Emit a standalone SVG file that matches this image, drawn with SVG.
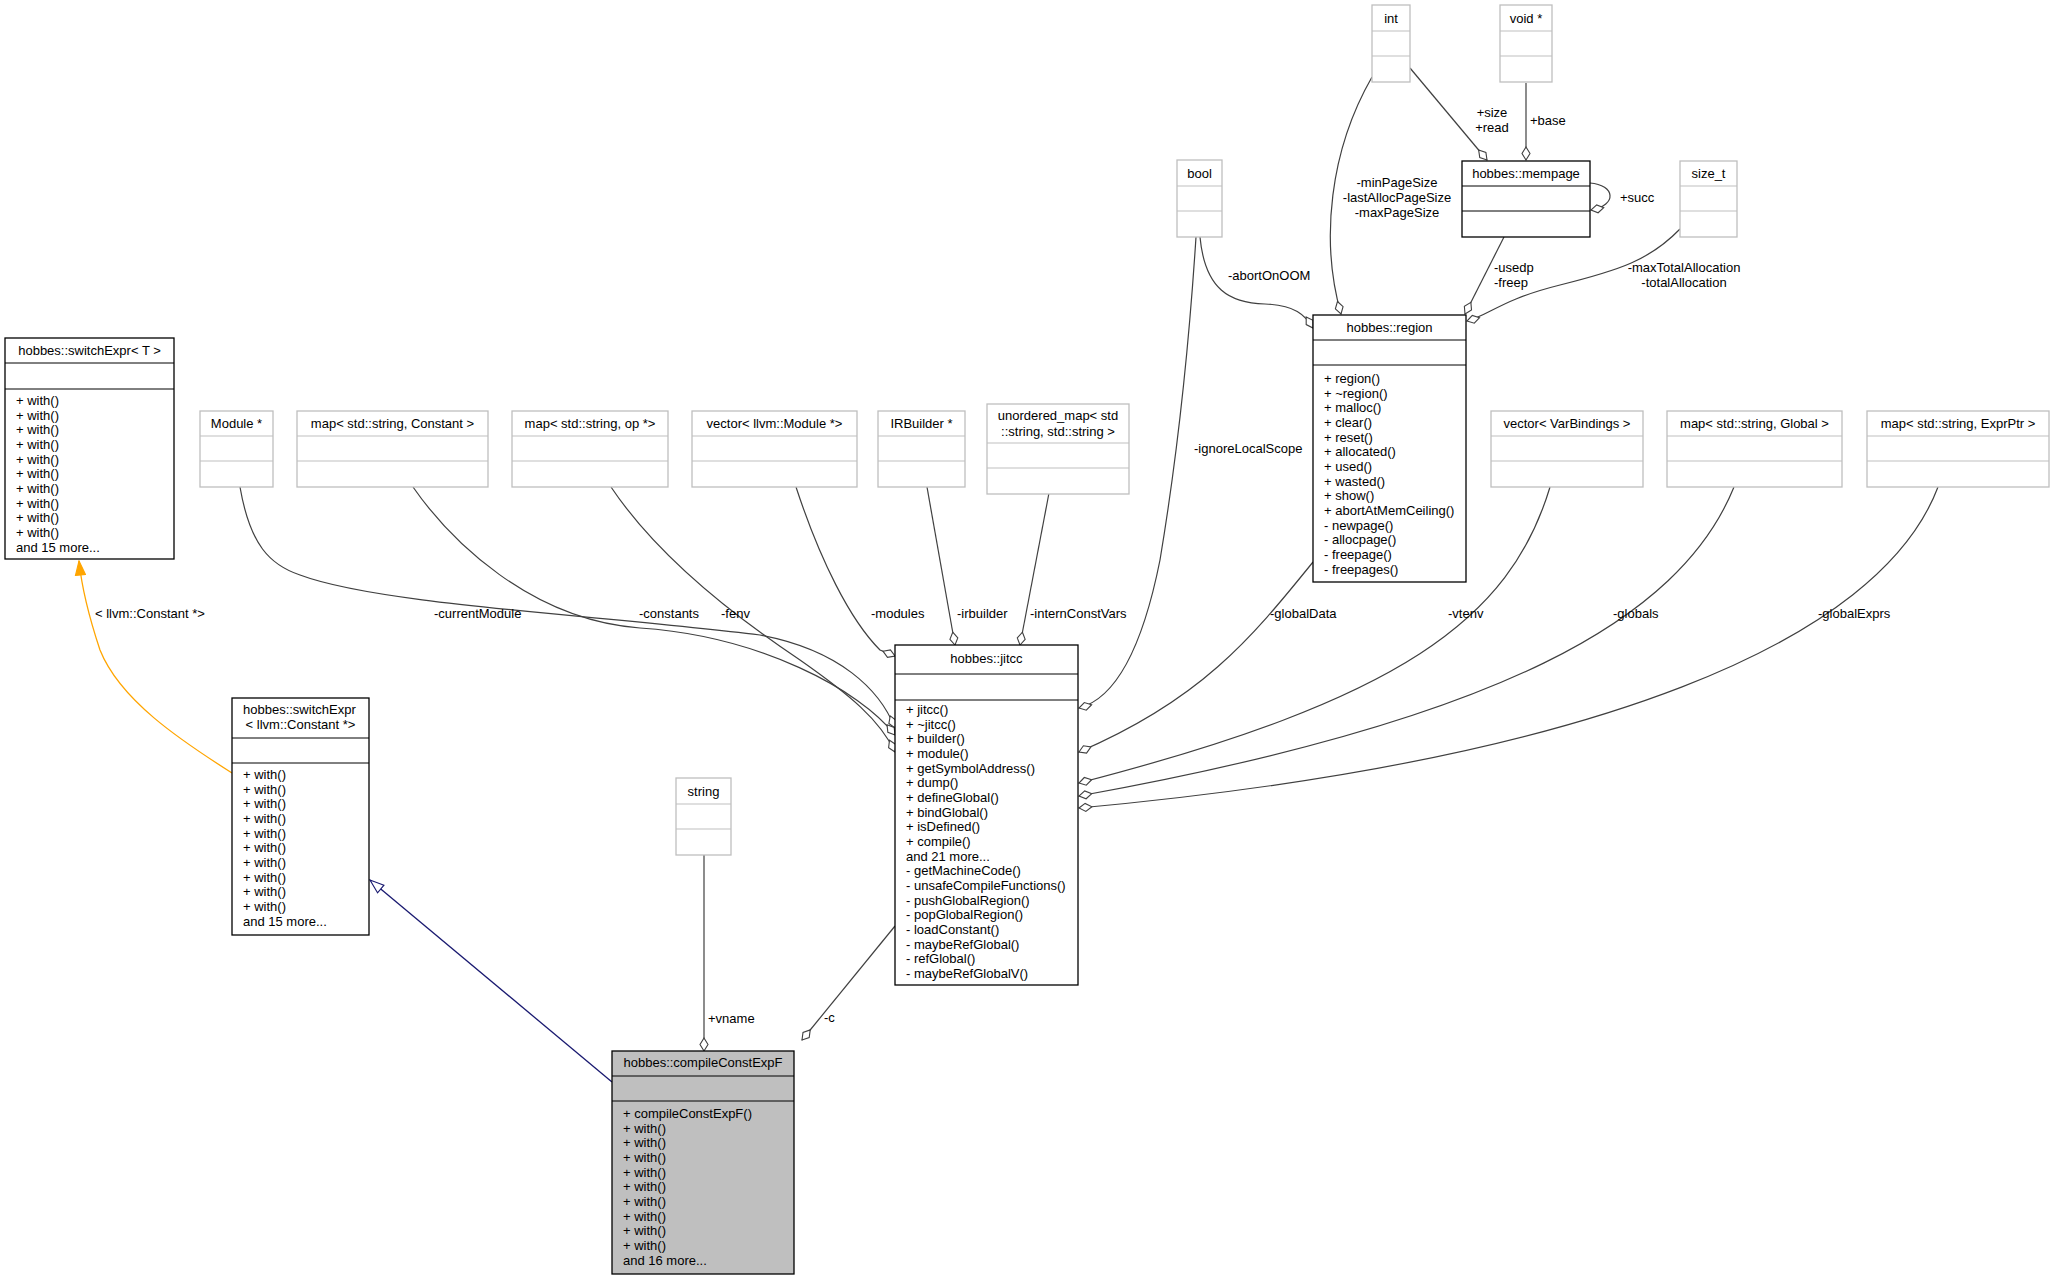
<svg xmlns="http://www.w3.org/2000/svg" width="2054" height="1279" viewBox="0 0 2054 1279">
<style>
text{font-family:"Liberation Sans",Arial,sans-serif;font-size:13px;fill:#000}
.c{text-anchor:middle}
.b{fill:#fff;stroke:#000;stroke-width:1.3}
.g{fill:#fff;stroke:#bfbfbf;stroke-width:1.3}
.e{fill:none;stroke:#404040;stroke-width:1.2}
</style>
<defs>
<marker id="d" markerUnits="userSpaceOnUse" markerWidth="16" markerHeight="10" refX="14" refY="5" orient="auto">
<path d="M1,5 L7.5,1 L14,5 L7.5,9 Z" fill="#fff" stroke="#404040" stroke-width="1.1"/>
</marker>
<marker id="t" markerUnits="userSpaceOnUse" markerWidth="16" markerHeight="12" refX="15" refY="6" orient="auto">
<path d="M1,1 L15,6 L1,11 Z" fill="#fff" stroke="#191970" stroke-width="1.1"/>
</marker>
<marker id="o" markerUnits="userSpaceOnUse" markerWidth="16" markerHeight="12" refX="15" refY="6" orient="auto">
<path d="M1,1 L15,6 L1,11 Z" fill="#ffa500" stroke="#ffa500" stroke-width="1.1"/>
</marker>
</defs>
<rect width="2054" height="1279" fill="#fff"/>
<g id="edges">
<path d="M232,773 C180,740 120,700 100,650 C90,620 82,590 79,561" fill="none" stroke="#ffa500" stroke-width="1.3" marker-end="url(#o)"/>
<text x="95" y="618">&lt; llvm::Constant *&gt;</text>
<path d="M612,1082 L370,880" fill="none" stroke="#191970" stroke-width="1.3" marker-end="url(#t)"/>
<path class="e" d="M704,855 L704,1051" marker-end="url(#d)"/>
<text x="708" y="1023">+vname</text>
<path class="e" d="M895,926 L802,1040" marker-end="url(#d)"/>
<text x="824" y="1022">-c</text>
<path class="e" d="M240,487 C250,545 270,565 300,575 C380,605 600,615 760,635 C840,650 880,690 895,728" marker-end="url(#d)"/>
<text x="434" y="618">-currentModule</text>
<path class="e" d="M413,487 C450,540 530,620 640,628 C760,636 860,690 895,735" marker-end="url(#d)"/>
<text x="639" y="618">-constants</text>
<path class="e" d="M611,487 C660,560 740,620 800,660 C850,695 880,720 895,752" marker-end="url(#d)"/>
<text x="721" y="618">-fenv</text>
<path class="e" d="M796,487 C820,560 850,620 880,650 L895,656" marker-end="url(#d)"/>
<text x="871" y="618">-modules</text>
<path class="e" d="M927,487 L955,645" marker-end="url(#d)"/>
<text x="957" y="618">-irbuilder</text>
<path class="e" d="M1049,493 L1020,645" marker-end="url(#d)"/>
<text x="1030" y="618">-internConstVars</text>
<path class="e" d="M1196,237 C1190,330 1180,440 1160,560 C1140,660 1110,700 1079,708" marker-end="url(#d)"/>
<text x="1194" y="453">-ignoreLocalScope</text>
<path class="e" d="M1313,562 C1250,640 1200,700 1079,752" marker-end="url(#d)"/>
<text x="1270" y="618">-globalData</text>
<path class="e" d="M1550,487 C1510,620 1400,700 1079,783" marker-end="url(#d)"/>
<text x="1448" y="618">-vtenv</text>
<path class="e" d="M1734,487 C1680,620 1500,720 1079,796" marker-end="url(#d)"/>
<text x="1613" y="618">-globals</text>
<path class="e" d="M1938,487 C1880,640 1600,760 1079,808" marker-end="url(#d)"/>
<text x="1818" y="618">-globalExprs</text>
<path class="e" d="M1200,237 C1205,290 1230,303 1265,304 C1295,305 1305,315 1313,328" marker-end="url(#d)"/>
<text x="1228" y="280">-abortOnOOM</text>
<path class="e" d="M1372,77 C1330,150 1320,240 1341,314" marker-end="url(#d)"/>
<text class="c" x="1397" y="187">-minPageSize</text>
<text class="c" x="1397" y="202">-lastAllocPageSize</text>
<text class="c" x="1397" y="217">-maxPageSize</text>
<path class="e" d="M1410,68 L1487,160" marker-end="url(#d)"/>
<text class="c" x="1492" y="117">+size</text>
<text class="c" x="1492" y="132">+read</text>
<path class="e" d="M1526,83 L1526,160" marker-end="url(#d)"/>
<text x="1530" y="125">+base</text>
<path class="e" d="M1590,183 C1615,185 1618,205 1591,210" marker-end="url(#d)"/>
<text x="1620" y="202">+succ</text>
<path class="e" d="M1504,237 L1465,314" marker-end="url(#d)"/>
<text x="1494" y="272">-usedp</text>
<text x="1494" y="287">-freep</text>
<path class="e" d="M1680,229 C1650,260 1620,270 1560,285 C1500,300 1490,315 1467,321" marker-end="url(#d)"/>
<text class="c" x="1684" y="272">-maxTotalAllocation</text>
<text class="c" x="1684" y="287">-totalAllocation</text>
</g>
<g id="switchExprT">
<rect class="b" x="5" y="338" width="169" height="221"/>
<line x1="5" y1="363" x2="174" y2="363" stroke="#000"/><line x1="5" y1="389" x2="174" y2="389" stroke="#000"/>
<text class="c" x="89.5" y="355">hobbes::switchExpr&lt; T &gt;</text>
<text x="16" y="405">+ with()</text><text x="16" y="420">+ with()</text><text x="16" y="434">+ with()</text><text x="16" y="449">+ with()</text><text x="16" y="464">+ with()</text><text x="16" y="478">+ with()</text><text x="16" y="493">+ with()</text><text x="16" y="508">+ with()</text><text x="16" y="522">+ with()</text><text x="16" y="537">+ with()</text><text x="16" y="552">and 15 more...</text>
</g>
<g id="switchExprConst">
<rect class="b" x="232" y="698" width="137" height="237"/>
<line x1="232" y1="738" x2="369" y2="738" stroke="#000"/><line x1="232" y1="763" x2="369" y2="763" stroke="#000"/>
<text x="243" y="714">hobbes::switchExpr</text><text class="c" x="300.5" y="729">&lt; llvm::Constant *&gt;</text>
<text x="243" y="779">+ with()</text><text x="243" y="794">+ with()</text><text x="243" y="808">+ with()</text><text x="243" y="823">+ with()</text><text x="243" y="838">+ with()</text><text x="243" y="852">+ with()</text><text x="243" y="867">+ with()</text><text x="243" y="882">+ with()</text><text x="243" y="896">+ with()</text><text x="243" y="911">+ with()</text><text x="243" y="926">and 15 more...</text>
</g>
<g id="compileConstExpF">
<rect x="612" y="1051" width="182" height="223" fill="#bfbfbf" stroke="#000" stroke-width="1.3"/>
<line x1="612" y1="1076" x2="794" y2="1076" stroke="#000"/><line x1="612" y1="1101" x2="794" y2="1101" stroke="#000"/>
<text class="c" x="703" y="1067">hobbes::compileConstExpF</text>
<text x="623" y="1118">+ compileConstExpF()</text><text x="623" y="1133">+ with()</text><text x="623" y="1147">+ with()</text><text x="623" y="1162">+ with()</text><text x="623" y="1177">+ with()</text><text x="623" y="1191">+ with()</text><text x="623" y="1206">+ with()</text><text x="623" y="1221">+ with()</text><text x="623" y="1235">+ with()</text><text x="623" y="1250">+ with()</text><text x="623" y="1265">and 16 more...</text>
</g>
<g id="string"><rect class="g" x="676" y="778" width="55" height="77"/><line x1="676" y1="804" x2="731" y2="804" stroke="#bfbfbf"/><line x1="676" y1="829" x2="731" y2="829" stroke="#bfbfbf"/><text class="c" x="703.5" y="796">string</text></g>
<g id="module"><rect class="g" x="200" y="411" width="73" height="76"/><line x1="200" y1="436" x2="273" y2="436" stroke="#bfbfbf"/><line x1="200" y1="461" x2="273" y2="461" stroke="#bfbfbf"/><text class="c" x="236.5" y="428">Module *</text></g>
<g id="mapConstant"><rect class="g" x="297" y="411" width="191" height="76"/><line x1="297" y1="436" x2="488" y2="436" stroke="#bfbfbf"/><line x1="297" y1="461" x2="488" y2="461" stroke="#bfbfbf"/><text class="c" x="392.5" y="428">map&lt; std::string, Constant &gt;</text></g>
<g id="mapOp"><rect class="g" x="512" y="411" width="156" height="76"/><line x1="512" y1="436" x2="668" y2="436" stroke="#bfbfbf"/><line x1="512" y1="461" x2="668" y2="461" stroke="#bfbfbf"/><text class="c" x="590" y="428">map&lt; std::string, op *&gt;</text></g>
<g id="vectorModule"><rect class="g" x="692" y="411" width="165" height="76"/><line x1="692" y1="436" x2="857" y2="436" stroke="#bfbfbf"/><line x1="692" y1="461" x2="857" y2="461" stroke="#bfbfbf"/><text class="c" x="774.5" y="428">vector&lt; llvm::Module *&gt;</text></g>
<g id="irbuilder"><rect class="g" x="878" y="411" width="87" height="76"/><line x1="878" y1="436" x2="965" y2="436" stroke="#bfbfbf"/><line x1="878" y1="461" x2="965" y2="461" stroke="#bfbfbf"/><text class="c" x="921.5" y="428">IRBuilder *</text></g>
<g id="unorderedMap"><rect class="g" x="987" y="404" width="142" height="90"/><line x1="987" y1="443" x2="1129" y2="443" stroke="#bfbfbf"/><line x1="987" y1="468" x2="1129" y2="468" stroke="#bfbfbf"/><text class="c" x="1058" y="420">unordered_map&lt; std</text><text class="c" x="1058" y="436">::string, std::string &gt;</text></g>
<g id="jitcc">
<rect class="b" x="895" y="645" width="183" height="340"/>
<line x1="895" y1="674" x2="1078" y2="674" stroke="#000"/><line x1="895" y1="700" x2="1078" y2="700" stroke="#000"/>
<text class="c" x="986.5" y="663">hobbes::jitcc</text>
<text x="906" y="714">+ jitcc()</text><text x="906" y="729">+ ~jitcc()</text><text x="906" y="743">+ builder()</text><text x="906" y="758">+ module()</text><text x="906" y="773">+ getSymbolAddress()</text><text x="906" y="787">+ dump()</text><text x="906" y="802">+ defineGlobal()</text><text x="906" y="817">+ bindGlobal()</text><text x="906" y="831">+ isDefined()</text><text x="906" y="846">+ compile()</text><text x="906" y="861">and 21 more...</text><text x="906" y="875">- getMachineCode()</text><text x="906" y="890">- unsafeCompileFunctions()</text><text x="906" y="905">- pushGlobalRegion()</text><text x="906" y="919">- popGlobalRegion()</text><text x="906" y="934">- loadConstant()</text><text x="906" y="949">- maybeRefGlobal()</text><text x="906" y="963">- refGlobal()</text><text x="906" y="978">- maybeRefGlobalV()</text>
</g>
<g id="region">
<rect class="b" x="1313" y="315" width="153" height="267"/>
<line x1="1313" y1="340" x2="1466" y2="340" stroke="#000"/><line x1="1313" y1="365" x2="1466" y2="365" stroke="#000"/>
<text class="c" x="1389.5" y="332">hobbes::region</text>
<text x="1324" y="383">+ region()</text><text x="1324" y="398">+ ~region()</text><text x="1324" y="412">+ malloc()</text><text x="1324" y="427">+ clear()</text><text x="1324" y="442">+ reset()</text><text x="1324" y="456">+ allocated()</text><text x="1324" y="471">+ used()</text><text x="1324" y="486">+ wasted()</text><text x="1324" y="500">+ show()</text><text x="1324" y="515">+ abortAtMemCeiling()</text><text x="1324" y="530">- newpage()</text><text x="1324" y="544">- allocpage()</text><text x="1324" y="559">- freepage()</text><text x="1324" y="574">- freepages()</text>
</g>
<g id="bool"><rect class="g" x="1177" y="160" width="45" height="77"/><line x1="1177" y1="186" x2="1222" y2="186" stroke="#bfbfbf"/><line x1="1177" y1="211" x2="1222" y2="211" stroke="#bfbfbf"/><text class="c" x="1199.5" y="178">bool</text></g>
<g id="int"><rect class="g" x="1372" y="5" width="38" height="77"/><line x1="1372" y1="31" x2="1410" y2="31" stroke="#bfbfbf"/><line x1="1372" y1="56" x2="1410" y2="56" stroke="#bfbfbf"/><text class="c" x="1391" y="23">int</text></g>
<g id="voidptr"><rect class="g" x="1500" y="5" width="52" height="77"/><line x1="1500" y1="31" x2="1552" y2="31" stroke="#bfbfbf"/><line x1="1500" y1="56" x2="1552" y2="56" stroke="#bfbfbf"/><text class="c" x="1526" y="23">void *</text></g>
<g id="mempage"><rect class="b" x="1462" y="161" width="128" height="76"/><line x1="1462" y1="186" x2="1590" y2="186" stroke="#000"/><line x1="1462" y1="211" x2="1590" y2="211" stroke="#000"/><text class="c" x="1526" y="178">hobbes::mempage</text></g>
<g id="sizet"><rect class="g" x="1680" y="161" width="57" height="76"/><line x1="1680" y1="186" x2="1737" y2="186" stroke="#bfbfbf"/><line x1="1680" y1="211" x2="1737" y2="211" stroke="#bfbfbf"/><text class="c" x="1708.5" y="178">size_t</text></g>
<g id="vectorVarBindings"><rect class="g" x="1491" y="411" width="152" height="76"/><line x1="1491" y1="436" x2="1643" y2="436" stroke="#bfbfbf"/><line x1="1491" y1="461" x2="1643" y2="461" stroke="#bfbfbf"/><text class="c" x="1567" y="428">vector&lt; VarBindings &gt;</text></g>
<g id="mapGlobal"><rect class="g" x="1667" y="411" width="175" height="76"/><line x1="1667" y1="436" x2="1842" y2="436" stroke="#bfbfbf"/><line x1="1667" y1="461" x2="1842" y2="461" stroke="#bfbfbf"/><text class="c" x="1754.5" y="428">map&lt; std::string, Global &gt;</text></g>
<g id="mapExprPtr"><rect class="g" x="1867" y="411" width="182" height="76"/><line x1="1867" y1="436" x2="2049" y2="436" stroke="#bfbfbf"/><line x1="1867" y1="461" x2="2049" y2="461" stroke="#bfbfbf"/><text class="c" x="1958" y="428">map&lt; std::string, ExprPtr &gt;</text></g>
</svg>
